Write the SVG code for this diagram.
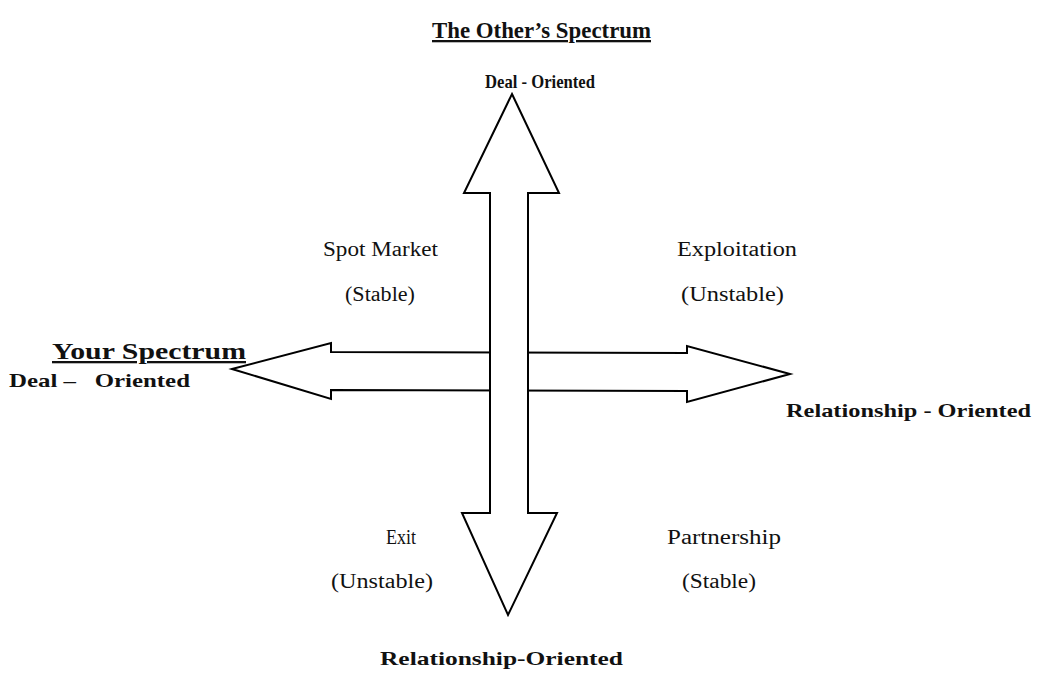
<svg xmlns="http://www.w3.org/2000/svg" width="1037" height="681" viewBox="0 0 1037 681">
  <style>
    .arrow { fill: #ffffff; stroke: #000000; stroke-width: 2; stroke-linejoin: miter; }
    .head { font-family: "Liberation Serif", "Times New Roman", serif; font-weight: bold; fill: #111; }
    .title { font-size: 23px; text-decoration: underline; }
    .pole { font-size: 19px; }
    .quad { font-family: "Liberation Serif", "Times New Roman", serif; font-size: 20.5px; fill: #111; }
  </style>

  <rect width="1037" height="681" fill="#ffffff"/>

  <!-- Axes: horizontal double arrow drawn first, vertical one on top -->
  <g id="connectors">
    <polygon id="your-axis" class="arrow" points="232,369 331,343 331,352 687,353 687,346 790,374 687,402 687,391 331,390 331,399"/>
    <polygon id="other-axis" class="arrow" points="512,94 559,193 528,193 528,513 557,513 508,615 462,513 490,513 490,193 464,193"/>
  </g>

  <!-- Axis titles and poles -->
  <g id="other-title">
    <text class="head title" x="432" y="38" textLength="219" lengthAdjust="spacingAndGlyphs">The Other’s Spectrum</text>
  </g>
  <g id="other-deal">
    <text class="head pole" x="485" y="88" textLength="110" lengthAdjust="spacingAndGlyphs">Deal - Oriented</text>
  </g>
  <g id="other-relationship">
    <text class="head pole" x="380" y="665" textLength="243" lengthAdjust="spacingAndGlyphs">Relationship-Oriented</text>
  </g>
  <g id="your-title">
    <text class="head title" x="52" y="359" textLength="194" lengthAdjust="spacingAndGlyphs">Your Spectrum</text>
  </g>
  <g id="your-deal">
    <text class="head pole" x="9" y="387" textLength="181" lengthAdjust="spacingAndGlyphs" xml:space="preserve">Deal –   Oriented</text>
  </g>
  <g id="your-relationship">
    <text class="head pole" x="786" y="417" textLength="245" lengthAdjust="spacingAndGlyphs">Relationship - Oriented</text>
  </g>

  <!-- Quadrants -->
  <g id="spot-market">
    <text class="quad" x="323" y="256" textLength="115" lengthAdjust="spacingAndGlyphs">Spot Market</text>
    <text class="quad" x="345" y="301" textLength="70" lengthAdjust="spacingAndGlyphs">(Stable)</text>
  </g>
  <g id="exploitation">
    <text class="quad" x="677" y="256" textLength="120" lengthAdjust="spacingAndGlyphs">Exploitation</text>
    <text class="quad" x="681" y="301" textLength="103" lengthAdjust="spacingAndGlyphs">(Unstable)</text>
  </g>
  <g id="exit">
    <text class="quad" x="386" y="544" textLength="30" lengthAdjust="spacingAndGlyphs">Exit</text>
    <text class="quad" x="331" y="588" textLength="102" lengthAdjust="spacingAndGlyphs">(Unstable)</text>
  </g>
  <g id="partnership">
    <text class="quad" x="667" y="544" textLength="114" lengthAdjust="spacingAndGlyphs">Partnership</text>
    <text class="quad" x="682" y="588" textLength="74" lengthAdjust="spacingAndGlyphs">(Stable)</text>
  </g>
</svg>
